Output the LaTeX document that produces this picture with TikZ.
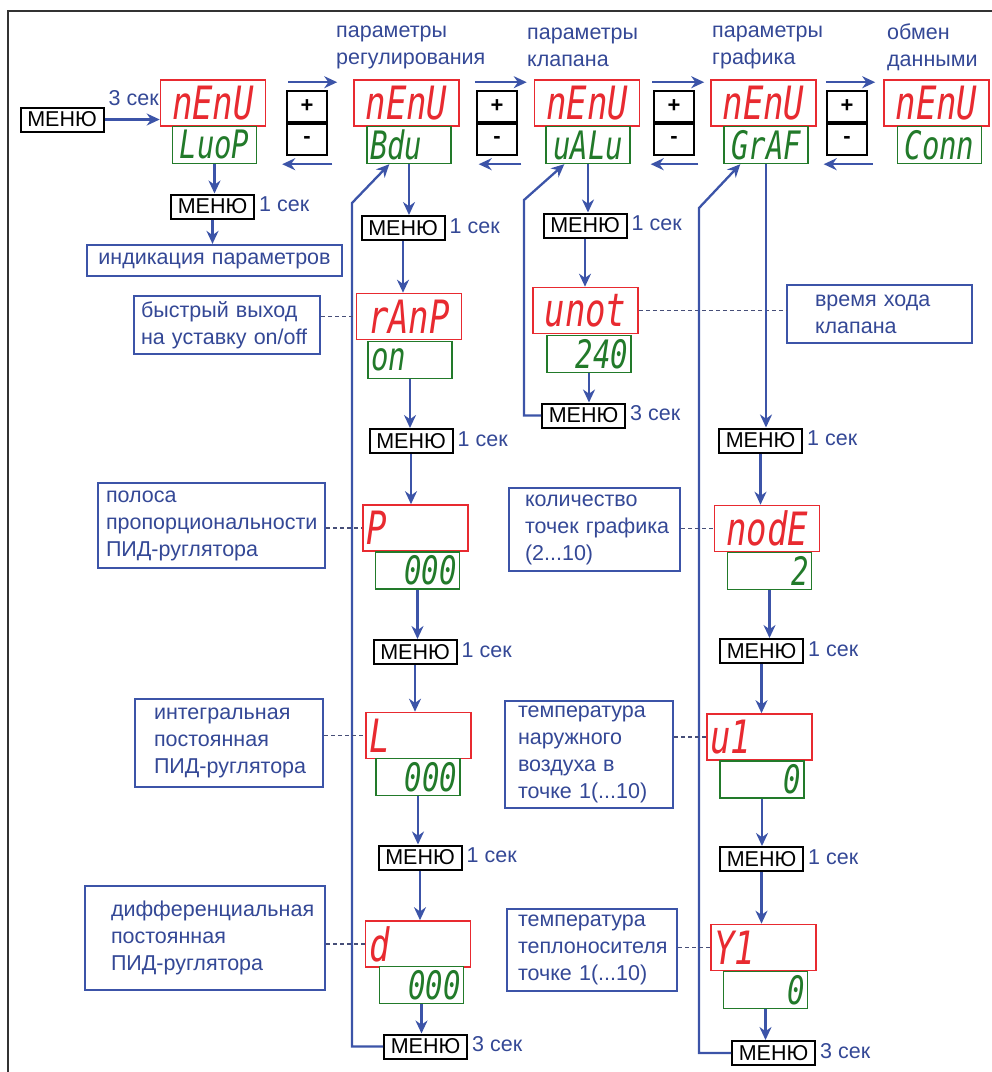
\documentclass[tikz,border=0pt]{standalone}
\usepackage{fontspec}
\setmainfont{Liberation Sans}
\newfontfamily\segfont{DejaVu Sans Mono}
\usepackage{graphicx}
\usetikzlibrary{arrows.meta,positioning,calc}
\definecolor{menublue}{RGB}{60,84,168}
\definecolor{menutext}{RGB}{52,72,150}
\definecolor{segred}{RGB}{232,42,48}
\definecolor{seggreen}{RGB}{34,122,42}
\definecolor{dashgray}{RGB}{70,78,120}
\newcommand{\seg}[1]{\scalebox{1}[1.35]{\segfont\itshape #1}}

\begin{document}
\begin{tikzpicture}[x=1pt,y=-1pt,
  reddisp/.style={draw=segred,line width=1.6pt,fill=white,minimum width=105pt,minimum height=46pt,inner sep=0pt,text width=98pt,align=center,text=segred,font=\fontsize{34}{34}\selectfont},
  greendisp/.style={draw=seggreen,line width=1.4pt,fill=white,minimum width=84pt,minimum height=37pt,inner sep=0pt,text width=78pt,align=center,text=seggreen,font=\fontsize{29}{29}\selectfont},
  menubox/.style={draw=black,line width=2pt,fill=white,minimum width=83pt,minimum height=24pt,inner sep=1pt,font=\fontsize{21.5}{21.5}\selectfont},
  btn/.style={draw=black,line width=2pt,fill=white,minimum width=40pt,minimum height=31pt,inner sep=0pt,font=\fontsize{22}{22}\selectfont\bfseries},
  lbl/.style={draw=menublue,line width=2.2pt,fill=white,inner sep=0pt,align=left,text=menutext,
    font=\fontsize{21.5}{27}\selectfont,execute at begin node={\hyphenpenalty=10000\exhyphenpenalty=10000}},
  ttl/.style={text=menutext,font=\fontsize{21.5}{27}\selectfont,inner sep=0pt,anchor=base west,text width=170pt,align=left},
  sec/.style={text=menutext,font=\fontsize{21.5}{21.5}\selectfont,inner sep=0pt,anchor=west,xshift=4pt,yshift=2pt},
  arr/.style={menublue,line width=2.3pt,-{Stealth[length=13pt,width=12pt]}},
  dsh/.style={dashgray,line width=1.3pt,dash pattern=on 4pt off 3pt}]
\useasboundingbox (0,0) rectangle (992,1072);
\draw[black!80,line width=1.4pt] (8,1072) -- (8,11) -- (992,11);

% top row of menus
\node[menubox] (ms) at (62,119.5) {МЕНЮ};
\node[reddisp] (r1) at (213,103) {\seg{nEnU}};
\node[greendisp] (g1) at (214.5,145) {\seg{LuoP}};
\node[reddisp] (r2) at (406.5,103) {\seg{nEnU}};
\node[greendisp,align=left] (g2) at (409,145) {\seg{Bdu}};
\node[reddisp] (r3) at (587,103) {\seg{nEnU}};
\node[greendisp] (g3) at (588,145) {\seg{uALu}};
\node[reddisp] (r4) at (763.5,103) {\seg{nEnU}};
\node[greendisp] (g4) at (766,145) {\seg{GrAF}};
\node[reddisp] (r5) at (936.5,103) {\seg{nEnU}};
\node[greendisp] (g5) at (939.5,145) {\seg{Conn}};
\node[ttl] (t2) at (336,37) {параметры\\регулирования};
\node[ttl] (t3) at (527,39) {параметры\\клапана};
\node[ttl] (t4) at (712,37) {параметры\\графика};
\node[ttl] (t5) at (887,39) {обмен\\данными};
\draw[arr] (ms.east) -- (ms.east -| r1.west);
\node[sec,anchor=south west,xshift=0pt,yshift=-1pt] (ts) at (ms.north east) {3 сек};

\foreach \i/\x in {1/307,2/497,3/674,4/847} {
  \node[btn] (pl\i) at (\x,106.5) {+};
  \node[btn] (mi\i) at (\x,139.5) {-};
}
\foreach \a/\b/\s/\t/\u/\v in {1/2/22/16/34/25,2/3/15/7/24/27,3/4/12/6/25/20,4/5/9/8/24/15} {
  \draw[arr,shorten <=\s pt,shorten >=\t pt] ([yshift=-3pt]r\a.north east) -- ([yshift=-3pt]r\a.north east -| r\b.west);
  \draw[arr,shorten <=\u pt,shorten >=\v pt] (g\b.south west) -- (g\b.south west -| g\a.east);
}

% loop indication
\node[menubox] (k0) at (212.5,206.5) {МЕНЮ};
\node[sec] (tk0) at (k0.east) {1 сек};
\node[lbl,minimum width=255pt,minimum height=31pt,text width=235pt,align=center] (Lind) at (214.5,260.5) {индикация параметров};
\draw[arr] (g1.south) -- (g1.south |- k0.north);
\draw[arr] (k0.south) -- (k0.south |- Lind.north);

% regulation parameters
\node[menubox] (k1) at (403,228) {МЕНЮ};
\node[reddisp] (rp) at (409,316.5) {\seg{rAnP}};
\node[greendisp,align=left] (rpv) at (410,360) {\seg{on}};
\node[menubox] (k2) at (411,441) {МЕНЮ};
\node[reddisp,align=left] (pb) at (415.5,528) {\seg{P}};
\node[greendisp,align=right] (pbv) at (417.5,570.5) {\seg{000}};
\node[menubox] (k3) at (415,652) {МЕНЮ};
\node[reddisp,align=left] (ti) at (418.5,735.5) {\seg{L}};
\node[greendisp,align=right] (tiv) at (418,777) {\seg{000}};
\node[menubox] (k4) at (420,857.5) {МЕНЮ};
\node[reddisp,align=left] (td) at (418,944) {\seg{d}};
\node[greendisp,align=right] (tdv) at (421.5,985) {\seg{000}};
\node[menubox] (k5) at (425.5,1046.5) {МЕНЮ};
\foreach \k/\t in {k1/1,k2/1,k3/1,k4/1,k5/3} \node[sec] (t\k) at (\k.east) {\t\ сек};
\draw[arr] (g2.south) -- (g2.south |- k1.north);
\draw[arr] (k1.south) -- (k1.south |- rp.north);
\draw[arr] (rpv.south) -- (rpv.south |- k2.north);
\draw[arr] (k2.south) -- (k2.south |- pb.north);
\draw[arr] (pbv.south) -- (pbv.south |- k3.north);
\draw[arr] (k3.south) -- (k3.south |- ti.north);
\draw[arr] (tiv.south) -- (tiv.south |- k4.north);
\draw[arr] (k4.south) -- (k4.south |- td.north);
\draw[arr] (tdv.south) -- (tdv.south |- k5.north);
\coordinate (rb2) at (352,203);
\draw[arr] (k5.west) -| (rb2) -- ([xshift=23pt]g2.south west);
\node[lbl,minimum width=186pt,minimum height=58pt,text width=172pt] (Lrp) at (227,325) {быстрый~выход\\на~уставку~on/off};
\node[lbl,minimum width=227pt,minimum height=85pt,text width=211pt] (Lpb) at (211.5,525.5) {полоса\\пропорциональности\\ПИД-руглятора};
\node[lbl,minimum width=188pt,minimum height=88pt,text width=150pt] (Lti) at (229,743) {интегральная\\постоянная\\ПИД-руглятора};
\node[lbl,minimum width=240pt,minimum height=104pt,text width=188pt] (Ltd) at (205,938) {дифференциальная\\постоянная\\ПИД-руглятора};
\foreach \n/\l in {rp/Lrp,pb/Lpb,ti/Lti,td/Ltd} \draw[dsh] (\n.west -| \l.east) -- (\n.west);

% valve parameters
\node[menubox] (kv1) at (585,225.5) {МЕНЮ};
\node[reddisp] (mot) at (585.5,310.5) {\seg{unot}};
\node[greendisp,align=right] (motv) at (589,354) {\seg{240}};
\node[menubox] (kv2) at (583.5,415.5) {МЕНЮ};
\node[sec] (tkv1) at (kv1.east) {1 сек};
\node[sec] (tkv2) at (kv2.east) {3 сек};
\draw[arr] (g3.south) -- (g3.south |- kv1.north);
\draw[arr] (kv1.south) -- (kv1.south |- mot.north);
\draw[arr] (motv.south) -- (motv.south |- kv2.north);
\coordinate (rb3) at (524,200);
\draw[arr] (kv2.west) -| (rb3) -- ([xshift=19pt]g3.south west);
\node[lbl,minimum width=185pt,minimum height=58pt,text width=129pt] (Lmot) at (879.5,314) {время~хода\\клапана};
\draw[dsh] (mot.east) -- (mot.east -| Lmot.west);

% graph parameters
\node[menubox] (kg1) at (760.5,440.5) {МЕНЮ};
\node[reddisp] (nd) at (767,528.5) {\seg{nodE}};
\node[greendisp,align=right] (ndv) at (769.5,571) {\seg{2}};
\node[menubox] (kg2) at (761.5,651) {МЕНЮ};
\node[reddisp,align=left] (xu) at (759.5,737) {\seg{u1}};
\node[greendisp,align=right] (xuv) at (762,779.5) {\seg{0}};
\node[menubox] (kg3) at (761.5,859) {МЕНЮ};
\node[reddisp,align=left] (xy) at (763.5,947.5) {\seg{Y1}};
\node[greendisp,align=right] (xyv) at (765.5,990) {\seg{0}};
\node[menubox] (kg4) at (773.5,1053) {МЕНЮ};
\foreach \k/\t in {kg1/1,kg2/1,kg3/1,kg4/3} \node[sec] (t\k) at (\k.east) {\t\ сек};
\draw[arr] (g4.south) -- (g4.south |- kg1.north);
\draw[arr] (kg1.south) -- (kg1.south |- nd.north);
\draw[arr] (ndv.south) -- (ndv.south |- kg2.north);
\draw[arr] (kg2.south) -- (kg2.south |- xu.north);
\draw[arr] (xuv.south) -- (xuv.south |- kg3.north);
\draw[arr] (kg3.south) -- (kg3.south |- xy.north);
\draw[arr] (xyv.south) -- (xyv.south |- kg4.north);
\coordinate (rb4) at (699,208);
\draw[arr] (kg4.west) -| (rb4) -- ([xshift=17pt]g4.south west);
\node[lbl,minimum width=171pt,minimum height=83pt,text width=139pt] (Lnd) at (594.5,529.5) {количество\\точек~графика\\(2...10)};
\node[lbl,minimum width=168pt,minimum height=107pt,text width=142pt] (Lxu) at (589,754.5) {температура\\наружного\\воздуха~в\\точке~1(...10)};
\node[lbl,minimum width=170pt,minimum height=82pt,text width=148pt] (Lxy) at (592,950) {температура\\теплоносителя\\точке~1(...10)};
\foreach \n/\l in {nd/Lnd,xu/Lxu,xy/Lxy} \draw[dsh] (\n.west -| \l.east) -- (\n.west);
\end{tikzpicture}
\end{document}
